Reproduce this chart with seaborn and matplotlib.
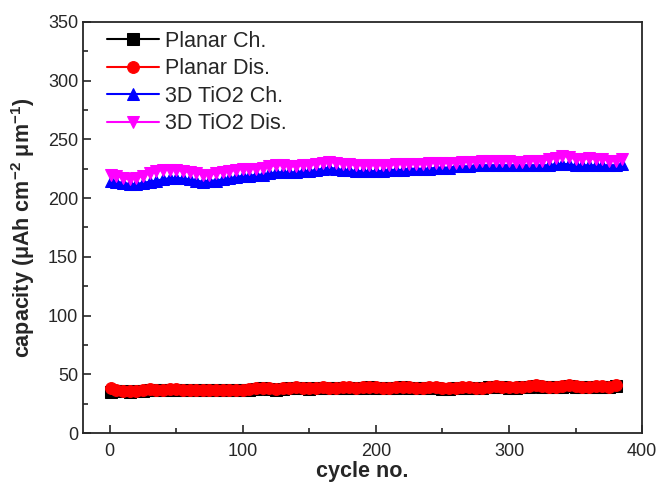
import numpy as np
import pandas as pd
import matplotlib
matplotlib.use("Agg")
import matplotlib.pyplot as plt
from matplotlib.ticker import MultipleLocator
import seaborn as sns

# ── data (every 5th cycle) ──
cycles = [1] + list(range(5, 390, 5))

planar_dis = [
    38.5, 37, 36, 35.5, 36, 37, 37.5, 37, 37, 37.5,
    37.5, 37, 37, 37, 37, 37, 37, 37, 37, 37,
    37, 37.5, 38, 38.5, 38, 37.5, 38, 38.5, 39, 38.5,
    38, 38.5, 39, 38.5, 38.5, 39, 39, 38.5, 39, 39.5,
    39, 38.5, 38.5, 39, 39.5, 39, 38.5, 38.5, 39, 39,
    38, 38, 38.5, 39, 39, 38.5, 38.5, 39.5, 40, 39.5,
    39, 39, 39.5, 40, 40.5, 40, 39.5, 39.5, 40, 40.5,
    40, 39.5, 39.5, 40, 40, 39.5, 40.5,
]
planar_ch = [
    35, 36, 35.5, 35, 35.5, 36, 37, 36.5, 36.5, 37,
    37, 36.5, 36.5, 36.5, 36.5, 36.5, 36.5, 36.5, 36.5, 36.5,
    36.5, 37, 37.5, 38, 37.5, 37, 37.5, 38, 38.5, 38,
    37.5, 38, 38.5, 38, 38, 38.5, 38.5, 38, 38.5, 39,
    38.5, 38, 38, 38.5, 39, 38.5, 38, 38, 38.5, 38.5,
    37.5, 37.5, 38, 38.5, 38.5, 38, 38, 39, 39.5, 39,
    38.5, 38.5, 39, 39.5, 40, 39.5, 39, 39, 39.5, 40,
    39.5, 39, 39, 39.5, 39.5, 39, 40,
]
tio2_dis = [
    220, 219, 217, 216, 217, 219, 221, 223, 224, 224,
    224, 223, 222, 221, 220, 220, 221, 222, 223, 224,
    225, 225, 225, 226, 227, 228, 228, 227, 227, 228,
    228, 229, 230, 231, 230, 229, 229, 228, 228, 228,
    228, 228, 228, 229, 229, 229, 229, 229, 230, 230,
    230, 230, 230, 231, 231, 231, 232, 232, 232, 232,
    232, 231, 231, 232, 232, 232, 233, 234, 236, 235,
    233, 233, 234, 233, 233, 232, 232, 233,
]
tio2_ch = [
    215, 214, 213, 212, 212, 213, 214, 215, 216, 217,
    217, 217, 216, 215, 214, 215, 215, 216, 217, 218,
    219, 219, 220, 220, 221, 222, 222, 222, 222, 223,
    223, 224, 225, 226, 225, 224, 224, 223, 223, 223,
    223, 223, 224, 224, 224, 225, 225, 225, 225, 226,
    226, 226, 227, 227, 227, 228, 228, 228, 228, 228,
    228, 228, 228, 228, 228, 228, 228, 229, 229, 229,
    228, 228, 228, 228, 228, 228, 228, 229,
]

series = [
    ("Planar Ch.", planar_ch, "black", "s"),
    ("Planar Dis.", planar_dis, "red", "o"),
    ("3D TiO2 Ch.", tio2_ch, "blue", "^"),
    ("3D TiO2 Dis.", tio2_dis, "magenta", "v"),
]

# ── style ──
sns.set_style("ticks")
plt.rcParams["font.family"] = ["Liberation Sans", "DejaVu Sans"]
plt.rcParams["mathtext.fontset"] = "custom"
plt.rcParams["mathtext.rm"] = "Liberation Sans:bold"
plt.rcParams["mathtext.bf"] = "Liberation Sans:bold"
plt.rcParams["xtick.direction"] = "in"
plt.rcParams["ytick.direction"] = "in"

fig = plt.figure(figsize=(6.56, 4.83), dpi=100)
ax = fig.add_axes([0.1265, 0.1035, 0.8525, 0.851])

for label, vals, color, marker in series:
    df = pd.DataFrame({"cycle": cycles[:len(vals)], "cap": vals})
    sns.lineplot(data=df, x="cycle", y="cap", ax=ax, color=color, marker=marker,
                 markersize=8.5, markeredgecolor=color, linewidth=1.5, label=label)

ax.set_xlim(-20, 400)
ax.set_ylim(0, 350)
ax.xaxis.set_major_locator(MultipleLocator(100))
ax.xaxis.set_minor_locator(MultipleLocator(50))
ax.yaxis.set_major_locator(MultipleLocator(50))
ax.yaxis.set_minor_locator(MultipleLocator(25))
ax.tick_params(which="major", direction="in", length=6, width=1.2, labelsize=13)
ax.tick_params(axis="x", which="major", pad=7)
ax.tick_params(which="minor", direction="in", length=3.5, width=1.2)
ax.tick_params(top=False, right=False, which="both")
for sp in ax.spines.values():
    sp.set_linewidth(1.3)
    sp.set_visible(True)

ax.set_xlabel("cycle no.", fontsize=15.5, fontweight="bold", labelpad=1)
ax.set_ylabel(r"capacity (μAh cm$^{-2}$ μm$^{-1}$)", fontsize=15.5, fontweight="bold",
              labelpad=8)

ax.legend(loc="upper left", bbox_to_anchor=(0.02, 1.01), frameon=False, fontsize=15.5,
          handlelength=2.4, handletextpad=0.3, labelspacing=0.3, borderaxespad=0.2)

fig.savefig("out.png", dpi=100)
